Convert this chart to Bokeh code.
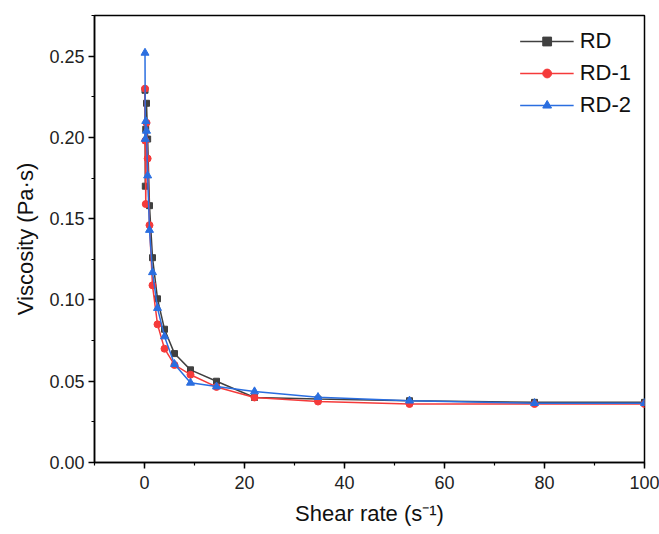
from bokeh.plotting import figure
from bokeh.models import Range1d, SingleIntervalTicker, NumeralTickFormatter, Legend, LegendItem
from bokeh.embed import file_html
from bokeh.resources import INLINE

# Shear rate (s^-1)
shear_rate = [0.1, 0.16, 0.25, 0.4, 0.63, 1.0, 1.6, 2.6, 4.0, 6.0, 9.2, 14.4, 22, 34.7, 53, 78, 100]

# Viscosity (Pa·s)
rd = [0.229, 0.170, 0.205, 0.221, 0.199, 0.158, 0.126, 0.1007, 0.082, 0.067, 0.057, 0.050, 0.040, 0.039, 0.038, 0.037, 0.037]
rd1 = [0.230, 0.198, 0.159, 0.209, 0.187, 0.146, 0.109, 0.085, 0.070, 0.060, 0.054, 0.0465, 0.040, 0.0375, 0.036, 0.036, 0.036]
rd2 = [0.252, 0.199, 0.210, 0.204, 0.1765, 0.143, 0.117, 0.095, 0.0775, 0.0605, 0.049, 0.0467, 0.0437, 0.0402, 0.038, 0.0365, 0.0365]

labels = ["RD", "RD-1", "RD-2"]
FONT = "Liberation Sans"

p = figure(width=659, height=534, output_backend="svg", toolbar_location=None,
           x_range=Range1d(-10, 100), y_range=Range1d(0, 0.275),
           min_border_left=94, min_border_right=15, min_border_top=15, min_border_bottom=72)

p.xgrid.visible = False
p.ygrid.visible = False
p.outline_line_color = "black"
p.outline_line_width = 1.5
p.outline_line_alpha = 1.0
p.background_fill_color = "white"
p.border_fill_color = "white"

p.xaxis.ticker = SingleIntervalTicker(interval=20, num_minor_ticks=2)
p.yaxis.ticker = SingleIntervalTicker(interval=0.05, num_minor_ticks=2)
p.yaxis.formatter = NumeralTickFormatter(format="0.00")

for ax in (p.xaxis[0], p.yaxis[0]):
    ax.axis_line_color = "black"
    ax.axis_line_width = 1.5
    ax.major_tick_line_color = "black"
    ax.major_tick_line_width = 1.5
    ax.minor_tick_line_color = "black"
    ax.minor_tick_line_width = 1.2
    ax.major_tick_in = 0
    ax.major_tick_out = 6
    ax.minor_tick_in = 0
    ax.minor_tick_out = 3
    ax.major_label_text_font = FONT
    ax.major_label_text_font_size = "18px"
    ax.major_label_text_color = "#222222"
    ax.axis_label_text_font = FONT
    ax.axis_label_text_font_size = "22px"
    ax.axis_label_text_font_style = "normal"
    ax.axis_label_text_color = "#111111"

p.xaxis.axis_label = "Shear rate (s\u207b\u00b9)"
p.yaxis.axis_label = "Viscosity (Pa\u00b7s)"
p.xaxis.major_label_standoff = 7
p.yaxis.major_label_standoff = 4
p.xaxis.axis_label_standoff = 9
p.yaxis.axis_label_standoff = 8

colors = ["#404040", "#f53a3a", "#2a6ee0"]
markers = ["square", "circle", "triangle"]
sizes = [6, 7, 8]
items = []
for ys, lab, c, m, s in zip([rd, rd1, rd2], labels, colors, markers, sizes):
    ln = p.line(shear_rate, ys, line_color=c, line_width=1.5)
    sc = p.scatter(shear_rate, ys, marker=m, size=s, fill_color=c, line_color=c)
    items.append(LegendItem(label=lab, renderers=[ln, sc]))

legend = Legend(items=items, location="top_right")
legend.border_line_alpha = 0
legend.background_fill_alpha = 0
legend.label_text_font = FONT
legend.label_text_font_size = "22px"
legend.label_text_color = "#111111"
legend.glyph_width = 54
legend.glyph_height = 22
legend.spacing = 6
legend.padding = 4
legend.margin = 9
legend.label_standoff = 6
p.add_layout(legend)

open("out.html", "w").write(file_html(p, INLINE))
